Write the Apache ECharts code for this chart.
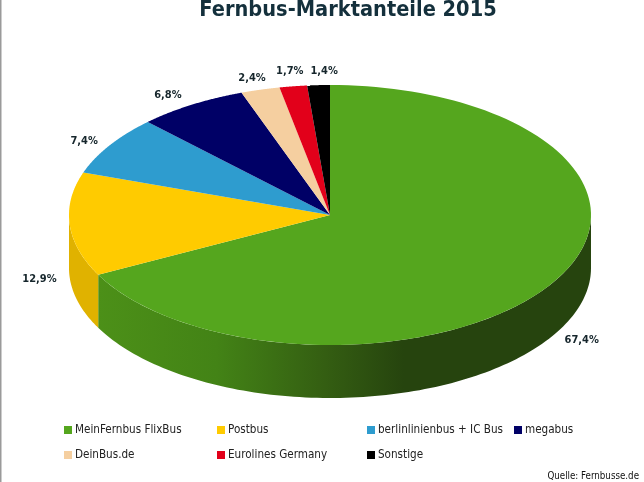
<!DOCTYPE html>
<html><head><meta charset="utf-8">
<style>html,body{margin:0;padding:0;background:#fff}#c{width:644px;height:482px}</style>
<script src="https://cdn.jsdelivr.net/npm/echarts@6/dist/echarts.min.js"></script>
</head><body><div id="c"></div>
<script>
var categories = ['MeinFernbus FlixBus','Postbus','berlinlinienbus + IC Bus','megabus','DeinBus.de','Eurolines Germany','Sonstige'];
var shares = [67.4,12.9,7.4,6.8,2.4,1.7,1.4];
var colors = ['#55A61E','#FFCB00','#2E9CCF','#000066','#F5CFA0','#E2001A','#000000'];
var sideColors = ['#4C9018','#E0B200','#2585B0','#000050','#D4B088','#B80016','#000000'];
var title = 'Fernbus-Marktanteile 2015';
var source = 'Quelle: Fernbusse.de';

var FONT = '"DejaVu Sans Condensed", "DejaVu Sans", sans-serif';
var DEPTH = 53/130, LABEL_R = 1.12;
var labelNudge = [[2,-4],[1,1],[1,4],[-7,4],[0,3],[1,0],[7,2]];
var legendLeft = [64,217,367,514], legendTop = [424,449];
var legendCell = [[0,0],[1,0],[2,0],[3,0],[0,1],[1,1],[2,1]];
var total = shares.reduce(function(a,b){return a+b;},0);

function pt(api,deg,dy,r){
  var t = deg*Math.PI/180; r = r==null?1:r;
  return api.coord([Math.sin(t)*r, Math.cos(t)*r-(dy||0)]);
}
function makeRender(i){
  return function(params,api){
    var v = api.value(0), s = api.value(1);
    var a0 = s/total*360, a1 = (s+v)/total*360, kids = [], k, n = 120;
    var b0 = Math.max(a0,90), b1 = Math.min(a1,270);
    if (b1 > b0){
      var wall = [];
      for(k=0;k<=n;k++) wall.push(pt(api,b0+(b1-b0)*k/n,0));
      for(k=n;k>=0;k--) wall.push(pt(api,b0+(b1-b0)*k/n,DEPTH));
      var fill = sideColors[i];
      if (i===0){
        fill = new echarts.graphic.LinearGradient(0,0,1,0,[
          {offset:0,color:'#4C9018'},{offset:0.24,color:'#438316'},{offset:0.46,color:'#345E12'},
          {offset:0.62,color:'#26440E'},{offset:1,color:'#26440E'}]);
      }
      kids.push({type:'polygon',shape:{points:wall},style:{fill:fill}});
    }
    var top = [api.coord([0,0])];
    for(k=0;k<=n;k++) top.push(pt(api,a0+(a1-a0)*k/n,0));
    kids.push({type:'polygon',shape:{points:top},style:{fill:colors[i]}});
    var mid = (a0+a1)/2, front = mid>90&&mid<270;
    var p = pt(api,mid,front?DEPTH:0,LABEL_R);
    kids.push({type:'text',x:p[0]+labelNudge[i][0],y:p[1]+labelNudge[i][1],style:{
      text:v.toFixed(1).replace('.',',')+'%',align:'center',verticalAlign:'middle',
      font:'bold 11px '+FONT,fill:'#16262c'}});
    return {type:'group',children:kids};
  };
}
var cum = 0, series = categories.map(function(name,i){
  var d = [[shares[i],cum]]; cum += shares[i];
  return {type:'custom',name:name,coordinateSystem:'cartesian2d',silent:true,animation:false,clip:false,
    itemStyle:{color:colors[i]},data:d,renderItem:makeRender(i)};
});
var legends = categories.map(function(name,i){
  var c = legendCell[i];
  return {data:[{name:name,icon:'rect'}],left:legendLeft[c[0]],top:legendTop[c[1]],itemWidth:8,itemHeight:8,
    padding:0,selectedMode:false,textStyle:{fontFamily:FONT,fontSize:11.6,color:'#222',padding:[0,0,0,-2]}};
});
var chart = echarts.init(document.getElementById('c'),null,{renderer:'canvas'});
chart.setOption({
  backgroundColor:'#fff',animation:false,
  title:[{text:title,left:343,top:-6,textAlign:'center',textStyle:{fontFamily:FONT,fontWeight:'bold',fontSize:21.6,color:'#14303C'}},
         {text:source,right:0,top:466,textStyle:{fontFamily:FONT,fontWeight:'normal',fontSize:9.7,color:'#111'}}],
  grid:{left:69,width:522,top:85,height:260},
  xAxis:{type:'value',min:-1,max:1,show:false},
  yAxis:{type:'value',min:-1,max:1,show:false},
  legend:legends,
  series:series,
  graphic:[{type:'rect',shape:{x:0,y:0,width:1.5,height:482},style:{fill:'#9a9a9a'}}]
});
</script></body></html>
